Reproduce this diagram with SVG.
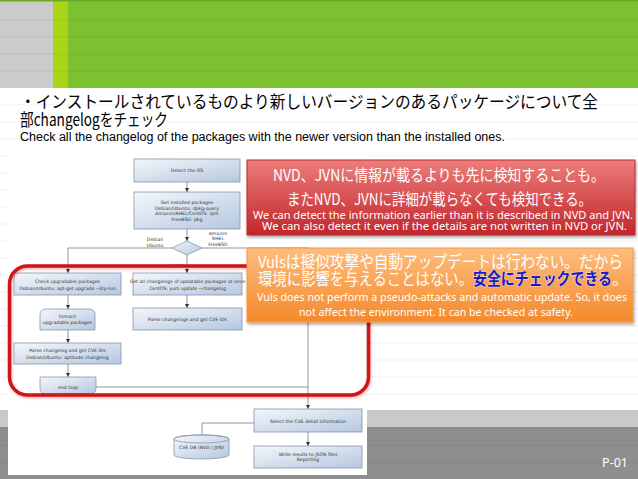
<svg xmlns="http://www.w3.org/2000/svg" width="638" height="479" viewBox="0 0 638 479">
<defs>
  <linearGradient id="gBox" x1="0" y1="0" x2="1" y2="1">
    <stop offset="0" stop-color="#f4f7fb"/>
    <stop offset="1" stop-color="#b5c7df"/>
  </linearGradient>
  <linearGradient id="gRed" x1="0" y1="0" x2="0" y2="1">
    <stop offset="0" stop-color="#ec7d7b"/>
    <stop offset="1" stop-color="#c2262b"/>
  </linearGradient>
  <linearGradient id="gOrange" x1="0" y1="0" x2="0" y2="1">
    <stop offset="0" stop-color="#fdbd7e"/>
    <stop offset="1" stop-color="#f5892b"/>
  </linearGradient>
  <marker id="arr" markerWidth="4" markerHeight="4" refX="4" refY="2" orient="auto" markerUnits="userSpaceOnUse">
    <path d="M0,0 L4,2 L0,4 z" fill="#333"/>
  </marker>
  <filter id="sh" x="-5%" y="-10%" width="115%" height="135%">
    <feDropShadow dx="1" dy="2" stdDeviation="1.5" flood-color="#000" flood-opacity="0.35"/>
  </filter>
  <filter id="shr" x="-5%" y="-5%" width="110%" height="115%">
    <feDropShadow dx="1" dy="1.5" stdDeviation="1" flood-color="#c00" flood-opacity="0.3"/>
  </filter>
</defs>
<style>
  .bx{fill:url(#gBox);stroke:#8595ad;stroke-width:0.8}
  .ft{font-family:"DejaVu Sans",Verdana,sans-serif;font-size:4.6px;fill:#333;text-anchor:middle}
  .cn{fill:none;stroke:#8a8a8a;stroke-width:0.9}
  .ca{marker-end:url(#arr)}
  .rl{stroke:#000;stroke-opacity:0.06;stroke-width:1}
  .jp{font-family:"Noto Sans CJK JP","Noto Sans",sans-serif}
  .en{font-family:"Noto Sans","Open Sans",sans-serif}
  .cw{fill:#fff}
</style>

<!-- background -->
<rect x="0" y="0" width="638" height="479" fill="#ffffff"/>
<rect x="0" y="0" width="638" height="88" fill="#7cc230"/>
<rect x="0" y="0" width="53" height="88" fill="#cbcbcb"/>
<rect x="53" y="0" width="15" height="88" fill="#a9d418"/>
<rect x="0" y="0" width="638" height="1.5" fill="#6aab25"/>
<rect x="0" y="410" width="638" height="17" fill="#c9c9c9"/>
<rect x="0" y="427" width="638" height="52" fill="#8e8e8e"/>
<g id="ruled">
  <line class="rl" x1="0" y1="20" x2="638" y2="20"/>
  <line class="rl" x1="0" y1="37" x2="638" y2="37"/>
  <line class="rl" x1="0" y1="54" x2="638" y2="54"/>
  <line class="rl" x1="0" y1="71" x2="638" y2="71"/>
  <line class="rl" x1="0" y1="105" x2="638" y2="105"/>
  <line class="rl" x1="0" y1="122" x2="638" y2="122"/>
  <line class="rl" x1="0" y1="139" x2="638" y2="139"/>
  <line class="rl" x1="0" y1="156" x2="638" y2="156"/>
  <line class="rl" x1="0" y1="173" x2="638" y2="173"/>
  <line class="rl" x1="0" y1="190" x2="638" y2="190"/>
  <line class="rl" x1="0" y1="207" x2="638" y2="207"/>
  <line class="rl" x1="0" y1="224" x2="638" y2="224"/>
  <line class="rl" x1="0" y1="241" x2="638" y2="241"/>
  <line class="rl" x1="0" y1="258" x2="638" y2="258"/>
  <line class="rl" x1="0" y1="275" x2="638" y2="275"/>
  <line class="rl" x1="0" y1="292" x2="638" y2="292"/>
  <line class="rl" x1="0" y1="309" x2="638" y2="309"/>
  <line class="rl" x1="0" y1="326" x2="638" y2="326"/>
  <line class="rl" x1="0" y1="343" x2="638" y2="343"/>
  <line class="rl" x1="0" y1="360" x2="638" y2="360"/>
  <line class="rl" x1="0" y1="377" x2="638" y2="377"/>
  <line class="rl" x1="0" y1="394" x2="638" y2="394"/>
  <line class="rl" x1="0" y1="445" x2="638" y2="445"/>
  <line class="rl" x1="0" y1="462" x2="638" y2="462"/>
</g>

<!-- title -->
<g id="title">
  <text class="jp" x="20" y="108" font-size="17" fill="#000" textLength="578" lengthAdjust="spacingAndGlyphs">・インストールされているものより新しいバージョンのあるパッケージについて全</text>
  <text class="jp" x="20" y="126" font-size="17" fill="#000" textLength="148" lengthAdjust="spacingAndGlyphs">部changelogをチェック</text>
  <text x="20" y="141" font-family="'Liberation Sans',Arial,sans-serif" font-size="12" fill="#000" textLength="485" lengthAdjust="spacingAndGlyphs">Check all the changelog of the packages with the newer version than the installed ones.</text>
</g>

<!-- flowchart panel -->
<rect x="8" y="147" width="359" height="328" fill="#ffffff"/>

<g id="connectors">
  <line class="cn ca" x1="187" y1="182" x2="187" y2="192"/>
  <line class="cn ca" x1="187" y1="229" x2="187" y2="241"/>
  <polyline class="cn ca" points="172,248 68,248 68,273"/>
  <line class="cn ca" x1="187" y1="255" x2="187" y2="273"/>
  <polyline class="cn ca" points="202,248 308,248 308,409"/>
  <line class="cn ca" x1="68" y1="295" x2="68" y2="309"/>
  <line class="cn ca" x1="68" y1="330" x2="68" y2="343"/>
  <line class="cn ca" x1="68" y1="364" x2="68" y2="377"/>
  <line class="cn" x1="96" y1="387" x2="308" y2="387"/>
  <line class="cn ca" x1="187" y1="295" x2="187" y2="308"/>
  <line class="cn ca" x1="308" y1="432" x2="308" y2="446"/>
  <polyline class="cn" points="254,423 202,423 202,436"/>
</g>

<g id="detect-os">
  <rect class="bx" x="134" y="159" width="106" height="23"/>
  <text class="ft" x="187" y="172">Detect the OS</text>
</g>
<g id="get-installed">
  <rect class="bx" x="134" y="192" width="106" height="37"/>
  <text class="ft" x="187" y="204">Get installed packages</text>
  <text class="ft" x="187" y="209.5">Debian/Ubuntu: dpkg-query</text>
  <text class="ft" x="187" y="215">Amazon/RHEL/CentOS: rpm</text>
  <text class="ft" x="187" y="220.5">FreeBSD: pkg</text>
</g>
<g id="os-decision">
  <polygon class="bx" points="187,241 202,248 187,255 172,248"/>
  <text class="ft" x="155" y="241">Debian</text>
  <text class="ft" x="155" y="246.5">Ubuntu</text>
  <text class="ft" x="218" y="235">Amazon</text>
  <text class="ft" x="218" y="240">RHEL</text>
  <text class="ft" x="218" y="245.5">FreeBSD</text>
  <text class="ft" x="175" y="266.5" style="font-size:4px">CentOS</text>
</g>
<g id="check-upgradable">
  <rect class="bx" x="14" y="273" width="107" height="22"/>
  <text class="ft" x="67.5" y="283">Check upgradable packages</text>
  <text class="ft" x="67.5" y="289.5">Debian/Ubuntu: apt-get upgrade --dry-run</text>
</g>
<g id="foreach">
  <path class="bx" d="M46,309 H89 Q95,309 95,315 V330 H40 V315 Q40,309 46,309 Z"/>
  <text class="ft" x="67.5" y="318">foreach</text>
  <text class="ft" x="67.5" y="324">upgradable  packages</text>
</g>
<g id="parse-changelog">
  <rect class="bx" x="14" y="343" width="107" height="21"/>
  <text class="ft" x="67.5" y="352">Parse changelog and get  CVE IDs</text>
  <text class="ft" x="67.5" y="358.5">Debian/Ubuntu: aptitude changelog</text>
</g>
<g id="end-loop">
  <path class="bx" d="M40,377 H96 V388 Q96,394 90,394 H46 Q40,394 40,388 Z"/>
  <text class="ft" x="68" y="388.5">end loop</text>
</g>
<g id="get-all-changelogs">
  <rect class="bx" x="133" y="273" width="109" height="22"/>
  <text class="ft" x="187.5" y="283">Get all changelogs of updatable packages at once</text>
  <text class="ft" x="187.5" y="289.5">CentOS: yum update --changelog</text>
</g>
<g id="parse-changelogs">
  <rect class="bx" x="133" y="308" width="109" height="22"/>
  <text class="ft" x="187.5" y="320.5">Parse changelogs and get CVE IDs</text>
</g>
<g id="select-cve">
  <rect class="bx" x="254" y="409" width="108" height="23"/>
  <text class="ft" x="308" y="422.5">Select the CVE detail information</text>
</g>
<g id="write-results">
  <rect class="bx" x="254" y="446" width="108" height="22"/>
  <text class="ft" x="308" y="455.5">Write results to JSON files</text>
  <text class="ft" x="308" y="461">Reporting</text>
</g>
<g id="cve-db">
  <path class="bx" d="M174,439 V455 A27.5,4 0 0 0 229,455 V439 A27.5,4 0 0 0 174,439 Z"/>
  <ellipse cx="201.5" cy="439" rx="27.5" ry="4" fill="none" stroke="#8595ad" stroke-width="0.8"/>
  <text class="ft" x="201.5" y="449">CVE DB (NVD / JVN)</text>
</g>

<!-- red highlight frame -->
<g id="highlight">
  <rect x="9.5" y="266" width="359" height="129" rx="18" fill="none" stroke="#cf1515" stroke-width="3.5" filter="url(#shr)"/>
</g>

<!-- callouts -->
<g id="callout-red">
  <rect x="247" y="160" width="388" height="75" fill="url(#gRed)" stroke="#b72a2c" stroke-width="1" filter="url(#sh)"/>
  <text class="jp cw" x="273" y="181" font-size="16" textLength="332" lengthAdjust="spacingAndGlyphs">NVD、JVNに情報が載るよりも先に検知することも。</text>
  <text class="jp cw" x="287" y="205" font-size="16" textLength="305" lengthAdjust="spacingAndGlyphs">またNVD、JVNに詳細が載らなくても検知できる。</text>
  <text class="en cw" x="253" y="219" font-size="10.5" textLength="380" lengthAdjust="spacingAndGlyphs">We can detect the information earlier than it is described in NVD and JVN.</text>
  <text class="en cw" x="262" y="230" font-size="10.5" textLength="365" lengthAdjust="spacingAndGlyphs">We can also detect it even if the details are not written in NVD or JVN.</text>
</g>
<g id="callout-orange">
  <rect x="247" y="248" width="386" height="74" fill="url(#gOrange)" stroke="#f39a45" stroke-width="1" filter="url(#sh)"/>
  <text class="jp cw" x="258" y="268" font-size="16.5" textLength="365" lengthAdjust="spacingAndGlyphs">Vulsは擬似攻撃や自動アップデートは行わない。だから</text>
  <text class="jp cw" x="258" y="285" font-size="16.5" textLength="215" lengthAdjust="spacingAndGlyphs">環境に影響を与えることはない。</text>
  <text class="jp" x="473" y="285" font-size="16.5" font-weight="bold" fill="#1a1ac8" stroke="#ffffff" stroke-opacity="0.5" stroke-width="1.2" paint-order="stroke" textLength="139" lengthAdjust="spacingAndGlyphs">安全にチェックできる</text>
  <text class="jp cw" x="612" y="285" font-size="16.5">。</text>
  <text class="en cw" x="257" y="301" font-size="10.5" textLength="370" lengthAdjust="spacingAndGlyphs">Vuls does not perform a pseudo-attacks and automatic update. So, it does</text>
  <text class="en cw" x="299" y="316" font-size="10.5" textLength="274" lengthAdjust="spacingAndGlyphs">not affect the environment. It can be checked at safety.</text>
</g>

<g id="page-number">
  <text x="628" y="467" font-family="'Noto Sans','Open Sans',sans-serif" font-size="12.5" fill="#ffffff" text-anchor="end">P-01</text>
</g>
</svg>
